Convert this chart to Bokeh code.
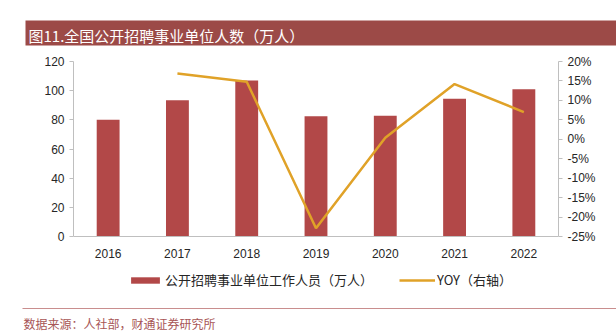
from bokeh.plotting import figure
from bokeh.models import (ColumnDataSource, Range1d, LinearAxis, FactorRange,
                          NumeralTickFormatter, FixedTicker, Legend, LegendItem, Title)
from bokeh.embed import file_html
from bokeh.resources import INLINE

years = ["2016", "2017", "2018", "2019", "2020", "2021", "2022"]
staff = [80.0, 93.5, 107.0, 82.5, 82.8, 94.5, 101.0]
yoy_years = ["2017", "2018", "2019", "2020", "2021", "2022"]
yoy = [0.169, 0.148, -0.229, 0.004, 0.142, 0.070]
left_ticks = [0, 20, 40, 60, 80, 100, 120]
right_ticks = [-0.25, -0.2, -0.15, -0.1, -0.05, 0, 0.05, 0.1, 0.15, 0.2]

title_text = "图11.全国公开招聘事业单位人数（万人）"
bar_label = "公开招聘事业单位工作人员（万人）"
line_label = "YOY（右轴）"
source_text = "数据来源：人社部，财通证券研究所"

W, H = 616, 336
FL, FT, FR = 73, 61, 558      # frame left / top / right (page px)
Y0 = 236                       # page y of the value axis baseline
FB = 305                       # frame bottom (legend lives inside the frame)
CJK = "Noto Sans CJK SC"
font = "Liberation Sans"

L_MIN, L_MAX = 0, 120
R_MIN, R_MAX = -0.25, 0.20
ext = (FB - Y0) / (Y0 - FT)    # extra room below the baseline, as a share of the axis span

p = figure(frame_width=FR - FL, frame_height=FB - FT,
           x_range=FactorRange(*years),
           y_range=Range1d(L_MIN - (L_MAX - L_MIN) * ext, L_MAX),
           x_axis_location="above",
           output_backend="svg", toolbar_location=None,
           min_border_left=FL, min_border_right=W - FR, min_border_top=FT,
           min_border_bottom=H - FB)
p.outline_line_color = None
p.grid.grid_line_color = None
p.extra_y_ranges = {"yoy": Range1d(R_MIN - (R_MAX - R_MIN) * ext, R_MAX)}

src = ColumnDataSource(dict(x=years, y=staff))
bars = p.vbar(x="x", top="y", width=0.33, source=src, fill_color="#B24848", line_color=None)
lsrc = ColumnDataSource(dict(x=yoy_years, y=yoy))
line = p.line(x="x", y="y", source=lsrc, y_range_name="yoy", line_color="#E0A228", line_width=2.5)

axis_color = "#BFBFBF"
ya = p.yaxis[0]
ya.ticker = FixedTicker(ticks=left_ticks)
ya.bounds = (L_MIN, L_MAX)
ya.axis_line_color = axis_color
ya.major_tick_line_color = axis_color
ya.major_tick_out = 4
ya.major_tick_in = 0
ya.minor_tick_line_color = None
ya.major_label_text_font = font
ya.major_label_text_font_size = "12px"
ya.major_label_text_color = "#262626"
ya.major_label_standoff = 5

# category axis pinned at value 0, labels drawn below its line
xa = p.xaxis[0]
xa.fixed_location = 0
xa.axis_line_color = axis_color
xa.major_tick_line_color = None
xa.major_tick_out = 0
xa.major_tick_in = 0
xa.major_label_text_font = font
xa.major_label_text_font_size = "12px"
xa.major_label_text_color = "#262626"
xa.major_label_standoff = -21

ra = LinearAxis(y_range_name="yoy", ticker=FixedTicker(ticks=right_ticks),
                formatter=NumeralTickFormatter(format="0%"), bounds=(R_MIN, R_MAX))
ra.axis_line_color = axis_color
ra.major_tick_line_color = axis_color
ra.major_tick_out = 4
ra.major_tick_in = 0
ra.minor_tick_line_color = None
ra.major_label_text_font = font
ra.major_label_text_font_size = "12px"
ra.major_label_text_color = "#262626"
ra.major_label_standoff = 5
p.add_layout(ra, "right")

legend = Legend(items=[LegendItem(label=bar_label, renderers=[bars]),
                       LegendItem(label=line_label, renderers=[line])],
                orientation="horizontal", location=(127 - FL, FB - 289),
                label_text_font=CJK, label_text_font_size="13px",
                label_text_color="#262626", glyph_width=36, glyph_height=8,
                spacing=26, label_standoff=2, border_line_color=None,
                background_fill_alpha=0, padding=0, margin=0)
p.add_layout(legend, "center")

# title bar: a title with a wide background box, outside the pinned axis panel
title_bar = Title(text=title_text, align="left", offset=25 - FL, standoff=28,
                  vertical_align="top",
                  text_font=CJK, text_font_size="15px", text_font_style="normal",
                  text_color="white", background_fill_color="#9C4A47",
                  padding=dict(left=3, right=700, top=4, bottom=0))
p.above = [xa, title_bar]

# separator rule and source line
sep = Title(text=" ", align="left", offset=22 - FL, standoff=5, vertical_align="top",
            text_font_size="1px", background_fill_color="#C98E8E",
            padding=dict(left=0, right=700, top=0, bottom=0))
source = Title(text=source_text, align="left", offset=23 - FL, standoff=3, vertical_align="top",
               text_font=CJK, text_font_size="12px", text_font_style="normal",
               text_color="#A85656")
p.below = [sep, source]

open("out.html", "w").write(file_html(p, INLINE))
